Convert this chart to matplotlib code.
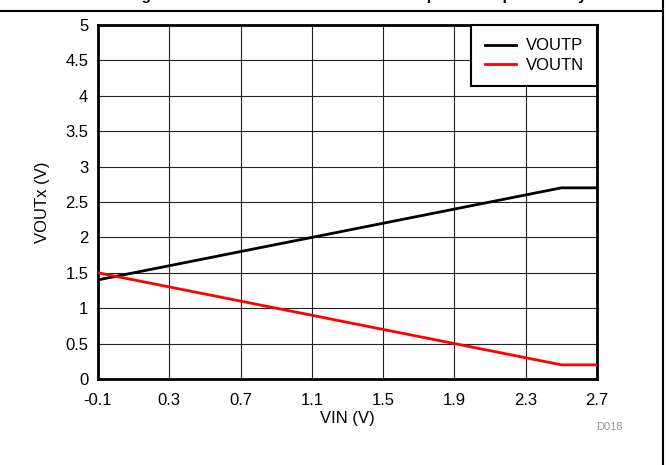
import matplotlib
matplotlib.use("Agg")
import matplotlib.pyplot as plt
from matplotlib.lines import Line2D
import numpy as np

plt.rcParams['font.family'] = ['Liberation Sans', 'DejaVu Sans']

# Data
vin = [-0.1, 2.5, 2.7]
voutp = [1.4, 2.7, 2.7]
voutn = [1.5, 0.2, 0.2]
x_ticks = [-0.1, 0.3, 0.7, 1.1, 1.5, 1.9, 2.3, 2.7]
x_tick_labels = ['-0.1', '0.3', '0.7', '1.1', '1.5', '1.9', '2.3', '2.7']
y_ticks = [0, 0.5, 1, 1.5, 2, 2.5, 3, 3.5, 4, 4.5, 5]
y_tick_labels = ['0', '0.5', '1', '1.5', '2', '2.5', '3', '3.5', '4', '4.5', '5']
series_names = ['VOUTP', 'VOUTN']
series_colors = ['black', '#ff0000']

W, H = 669, 465
fig = plt.figure(figsize=(W / 100, H / 100), dpi=100)
ax = fig.add_axes([98 / W, 1 - 379 / H, (597 - 98) / W, (379 - 25) / H])

ax.plot(vin, voutp, color=series_colors[0], lw=2, label=series_names[0], zorder=3)
ax.plot(vin, voutn, color=series_colors[1], lw=2, label=series_names[1], zorder=3)

ax.set_xlim(-0.1, 2.7)
ax.set_ylim(0, 5)
ax.set_xticks(x_ticks)
ax.set_xticklabels(x_tick_labels)
ax.set_yticks(y_ticks)
ax.set_yticklabels(y_tick_labels)
ax.tick_params(length=0, labelsize=12)
ax.tick_params(axis='x', pad=10)
ax.tick_params(axis='y', pad=7)
ax.grid(True, color='#222222', lw=0.8)
for s in ax.spines.values():
    s.set_linewidth(2)
    s.set_color('black')

ax.set_xlabel('VIN (V)', fontsize=12)
ax.xaxis.set_label_coords(0.5, (379 - 411) / 354)
ax.set_ylabel('VOUTx (V)', fontsize=12)
ax.yaxis.set_label_coords((50 - 98) / 499, 0.5)

leg = ax.legend(loc='upper right', bbox_to_anchor=(1, 1), borderaxespad=0,
                fancybox=False, framealpha=1, fontsize=12, handlelength=1.85,
                handletextpad=0.6, borderpad=0.8, labelspacing=0.28)
leg.get_frame().set_edgecolor('black')
leg.get_frame().set_linewidth(1.5)

fig.text(609 / W, 1 - 427 / H, 'D018', color='#999999', fontsize=8,
         ha='center', va='center')

# frame lines
fig.add_artist(Line2D([0, 663 / W], [1 - 11 / H, 1 - 11 / H], color='black', lw=1.5))
fig.add_artist(Line2D([663 / W, 663 / W], [0, 1], color='black', lw=1.5))

# title (clipped at top, only descenders visible)
fig.text(352 / W, 1 + 0.5 / H, 'Large-Scale Differential-Mode Behavior: Input vs Output Polarity',
         fontsize=11, fontweight='bold', ha='center', va='baseline')

fig.savefig('out.png', dpi=100)
